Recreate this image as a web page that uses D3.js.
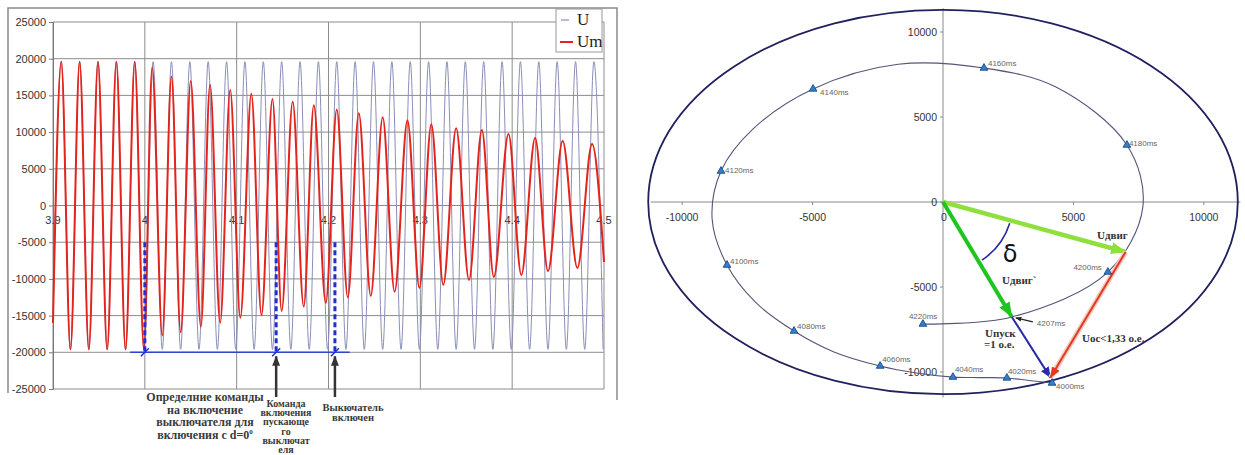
<!DOCTYPE html>
<html>
<head>
<meta charset="utf-8">
<script src="https://cdn.jsdelivr.net/npm/d3@7"></script>
<style>
  body { margin: 0; background: #fff; }
  svg { display: block; background: #fff; }
</style>
</head>
<body>
<svg width="1245" height="455"></svg>
<script>
// ---- left chart: U and Um vs time, s ----
const timeTicks = [3.9, 4, 4.1, 4.2, 4.3, 4.4, 4.5]
const voltTicks = [-25000, -20000, -15000, -10000, -5000, 0, 5000, 10000, 15000, 20000, 25000]

// network voltage U: constant amplitude, extrema
const uAmp = 19600
const uStart = -16000
const uPeakT = [3.909, 3.929, 3.949, 3.969, 3.989, 4.009, 4.029, 4.049, 4.069, 4.089,
                4.109, 4.129, 4.149, 4.169, 4.189, 4.209, 4.229, 4.249, 4.269, 4.289,
                4.309, 4.329, 4.349, 4.369, 4.389, 4.409, 4.429, 4.449, 4.469, 4.489]
const uTroughT = [3.919, 3.939, 3.959, 3.979, 3.999, 4.019, 4.039, 4.059, 4.079, 4.099,
                  4.119, 4.139, 4.159, 4.179, 4.199, 4.219, 4.239, 4.259, 4.279, 4.299,
                  4.319, 4.339, 4.359, 4.379, 4.399, 4.419, 4.439, 4.459, 4.479, 4.499]

// motor voltage Um: extrema (time, value)
const umT = [3.9, 3.909, 3.919, 3.929, 3.939, 3.949, 3.959, 3.969, 3.979, 3.989, 3.999,
             4.008, 4.019, 4.029, 4.039, 4.050, 4.061, 4.071, 4.082, 4.093, 4.104,
             4.116, 4.127, 4.139, 4.149, 4.161, 4.173, 4.184, 4.197, 4.209, 4.221,
             4.233, 4.246, 4.259, 4.272, 4.286, 4.299, 4.312, 4.325, 4.339, 4.353,
             4.367, 4.380, 4.396, 4.410, 4.425, 4.439, 4.455, 4.471, 4.487, 4.5]
const umV = [-16000, 19600, -19600, 19600, -19600, 19600, -19600, 19600, -19600, 19600, -19600,
             18800, -17700, 17570, -17280, 16950, -16520, 16460, -15970, 15720, -15290,
             15220, -14930, 14500, -14370, 14140, -13770, 13650, -13270, 13080, -12520,
             12580, -12300, 12030, -11760, 11620, -11220, 11080, -10810, 10540, -10140,
             10270, -9730, 9730, -9460, 9190, -8920, 8780, -8510, 8380, -7700]

// switching events
const eventT = [4.0, 4.143, 4.207]
const eventTop = -5000
const eventBottom = -20000
const eventText = [
    ["Определние команды", "на включение", "выключателя для", "включения с d=0"],
    ["Команда", "включения", "пускающе", "го", "выключат", "еля"],
    ["Выкючатель", "включен"]
]

// ---- right chart: voltage vector plane ----
const planeTicks = [-10000, -5000, 0, 5000, 10000]
const ringRadius = 11300
const trajMs = [4000, 4010, 4020, 4030, 4040, 4050, 4060, 4070, 4080, 4090, 4100, 4110,
                4120, 4130, 4140, 4150, 4160, 4170, 4180, 4190, 4200, 4207, 4220]
const trajX = [4180, 3300, 2450, 1400, 380, -1030, -2410, -4180, -5710, -7200, -8280, -8850,
               -8510, -7280, -4980, -1720, 1570, 4330, 7050, 7660, 6320, 2640, -770]
const trajY = [-10650, -10500, -10350, -10330, -10300, -10060, -9650, -8820, -7590, -5880, -3710, -1000,
               1820, 4300, 6650, 8100, 7880, 6760, 3350, -300, -4120, -6760, -7180]
const markerMs = [4000, 4020, 4040, 4060, 4080, 4100, 4120, 4140, 4160, 4180, 4200, 4220]

const uDvig = [7000, -2940]
const uDvigPrime = [2640, -6760]
const uEnd = [4120, -10330]

const svg = d3.select("svg")
const defs = svg.append("defs")

const arrowHead = function (id, color, len, wid) {
    defs.append("marker")
        .attr("id", id)
        .attr("viewBox", `0 0 ${len} ${wid}`)
        .attr("refX", len - 0.5)
        .attr("refY", wid / 2)
        .attr("markerWidth", len)
        .attr("markerHeight", wid)
        .attr("markerUnits", "userSpaceOnUse")
        .attr("orient", "auto")
        .append("path")
        .attr("d", `M0,0L${len},${wid / 2}L0,${wid}Z`)
        .attr("fill", color)
}
arrowHead("a-black", "#333", 10, 8)
arrowHead("a-lime", "#8fe03c", 15, 12)
arrowHead("a-green", "#1fc41f", 15, 12)
arrowHead("a-blue", "#2a2aa8", 11, 9)
arrowHead("a-red", "#e23a22", 11, 9)
arrowHead("a-small", "#222", 6, 5)

// ================= left chart =================
const x = d3.scaleLinear().domain([3.9, 4.5]).range([53, 604])
const y = d3.scaleLinear().domain([-25000, 25000]).range([389, 22])

const left = svg.append("g")

left.append("path")
    .attr("d", "M8,393V8H617V400")
    .attr("fill", "none")
    .attr("stroke", "#8a8a8a")
    .attr("stroke-width", 1.5)

left.append("g")
    .selectAll("line")
    .data(voltTicks)
    .join("line")
    .attr("x1", x(3.9))
    .attr("x2", x(4.5))
    .attr("y1", d => y(d))
    .attr("y2", d => y(d))
    .attr("stroke", "#8c8c8c")

left.append("g")
    .selectAll("line")
    .data(timeTicks)
    .join("line")
    .attr("x1", d => x(d))
    .attr("x2", d => x(d))
    .attr("y1", y(25000))
    .attr("y2", y(-25000))
    .attr("stroke", "#8c8c8c")

const yAxis = left.append("g")
    .attr("transform", `translate(${x(3.9)},0)`)
    .call(d3.axisLeft(y).tickValues(voltTicks).tickSize(4).tickPadding(3).tickFormat(d => String(d)))
yAxis.select(".domain").attr("stroke", "#777")
yAxis.selectAll(".tick line").attr("stroke", "#777")
yAxis.selectAll("text")
    .attr("font-family", "Liberation Sans, Arial, sans-serif")
    .attr("font-size", 11)
    .attr("fill", "#333")

left.append("g")
    .selectAll("text")
    .data(timeTicks)
    .join("text")
    .attr("x", d => x(d))
    .attr("y", y(0) + 18)
    .attr("text-anchor", "middle")
    .attr("font-family", "Liberation Sans, Arial, sans-serif")
    .attr("font-size", 11)
    .attr("fill", "#333")
    .text(d => String(d))

const wave = d3.line()
    .x(d => x(d[0]))
    .y(d => y(d[1]))
    .curve(d3.curveMonotoneX)

const uPoints = [[3.9, uStart]]
    .concat(uPeakT.map(t => [t, uAmp]))
    .concat(uTroughT.map(t => [t, -uAmp]))
    .sort((a, b) => a[0] - b[0])

left.append("path")
    .attr("d", wave(uPoints))
    .attr("fill", "none")
    .attr("stroke", "#8a8fb8")
    .attr("stroke-width", 1)

left.append("path")
    .attr("d", wave(umT.map((t, i) => [t, umV[i]])))
    .attr("fill", "none")
    .attr("stroke", "#e3241c")
    .attr("stroke-width", 2)

// legend
const legend = left.append("g")
legend.append("rect")
    .attr("x", 556).attr("y", 9).attr("width", 46).attr("height", 43)
    .attr("fill", "#fff").attr("stroke", "#999")
legend.append("line")
    .attr("x1", 561).attr("x2", 569).attr("y1", 20).attr("y2", 20)
    .attr("stroke", "#8a8fb8").attr("stroke-width", 1.2)
legend.append("line")
    .attr("x1", 560).attr("x2", 573).attr("y1", 42).attr("y2", 42)
    .attr("stroke", "#e3241c").attr("stroke-width", 2)
legend.selectAll("text")
    .data(["U", "Um"])
    .join("text")
    .attr("x", 577)
    .attr("y", (d, i) => 25 + i * 22)
    .attr("font-family", "Liberation Serif, Times New Roman, serif")
    .attr("font-size", 17)
    .attr("fill", "#222")
    .text(d => d)

// event markers
const ann = left.append("g")
ann.append("line")
    .attr("x1", x(3.984)).attr("x2", x(4.223))
    .attr("y1", y(eventBottom)).attr("y2", y(eventBottom))
    .attr("stroke", "#3344cc").attr("stroke-width", 1.5)

ann.selectAll("line.ev")
    .data(eventT)
    .join("line")
    .attr("class", "ev")
    .attr("x1", d => x(d)).attr("x2", d => x(d))
    .attr("y1", y(eventTop)).attr("y2", y(eventBottom))
    .attr("stroke", "#1d2fd6").attr("stroke-width", 3)
    .attr("stroke-dasharray", "5,3")

ann.selectAll("line.cross")
    .data(eventT)
    .join("line")
    .attr("class", "cross")
    .attr("x1", d => x(d) - 4).attr("x2", d => x(d) + 4)
    .attr("y1", y(eventBottom) + 4).attr("y2", y(eventBottom) - 4)
    .attr("stroke", "#1d2fd6").attr("stroke-width", 1.5)

ann.selectAll("line.up")
    .data(eventT.slice(1))
    .join("line")
    .attr("class", "up")
    .attr("x1", d => x(d)).attr("x2", d => x(d))
    .attr("y1", 397).attr("y2", y(eventBottom) + 4)
    .attr("stroke", "#333").attr("stroke-width", 2.5)
    .attr("marker-end", "url(#a-black)")

const textCfg = [
    {cx: 205, top: 401, lh: 12.5, size: 12},
    {cx: 286, top: 407, lh: 9.2, size: 10},
    {cx: 353, top: 411, lh: 10, size: 10.5}
]
eventText.forEach(function (lines, k) {
    const cfg = textCfg[k]
    const t = ann.append("text")
        .attr("text-anchor", "middle")
        .attr("font-family", "Liberation Serif, Times New Roman, serif")
        .attr("font-weight", "bold")
        .attr("font-size", cfg.size)
        .attr("fill", "#3a3a3a")
    lines.forEach(function (line, i) {
        t.append("tspan")
            .attr("x", cfg.cx)
            .attr("y", cfg.top + i * cfg.lh)
            .text(line)
        if (k === 0 && i === lines.length - 1) {
            t.append("tspan").attr("dy", -5).attr("font-size", 7).text("0")
        }
    })
})

// ================= right chart =================
const xR = d3.scaleLinear().domain([-11500, 11500]).range([643, 1243])
const yR = d3.scaleLinear().domain([-11500, 11500]).range([397.5, 6.5])

const right = svg.append("g")

right.append("line")
    .attr("x1", xR(-11200)).attr("x2", xR(11400))
    .attr("y1", yR(0)).attr("y2", yR(0))
    .attr("stroke", "#8a8a8a")
right.append("line")
    .attr("x1", xR(0)).attr("x2", xR(0))
    .attr("y1", yR(11400)).attr("y2", yR(-11500))
    .attr("stroke", "#8a8a8a")

right.append("g")
    .selectAll("line")
    .data(planeTicks)
    .join("line")
    .attr("x1", d => xR(d)).attr("x2", d => xR(d))
    .attr("y1", yR(0)).attr("y2", yR(0) + 3)
    .attr("stroke", "#8a8a8a")
right.append("g")
    .selectAll("line")
    .data(planeTicks)
    .join("line")
    .attr("x1", xR(0) - 3).attr("x2", xR(0))
    .attr("y1", d => yR(d)).attr("y2", d => yR(d))
    .attr("stroke", "#8a8a8a")

right.append("g")
    .selectAll("text")
    .data(planeTicks)
    .join("text")
    .attr("x", d => xR(d) + (d === 0 ? 1 : 0))
    .attr("y", yR(0) + 19)
    .attr("text-anchor", "middle")
    .attr("font-family", "Liberation Sans, Arial, sans-serif")
    .attr("font-size", 10.5)
    .attr("fill", "#333")
    .text(d => String(d))
right.append("g")
    .selectAll("text")
    .data(planeTicks)
    .join("text")
    .attr("x", xR(0) - 6)
    .attr("y", d => yR(d) + 4)
    .attr("text-anchor", "end")
    .attr("font-family", "Liberation Sans, Arial, sans-serif")
    .attr("font-size", 10.5)
    .attr("fill", "#333")
    .text(d => String(d))

// outer ring
right.append("ellipse")
    .attr("cx", xR(0)).attr("cy", yR(0))
    .attr("rx", xR(ringRadius) - xR(0))
    .attr("ry", yR(0) - yR(ringRadius))
    .attr("fill", "none")
    .attr("stroke", "#20205e")
    .attr("stroke-width", 1.8)

// trajectory of the motor voltage vector
const traj = d3.line()
    .x(d => xR(d[0]))
    .y(d => yR(d[1]))
    .curve(d3.curveCatmullRom.alpha(0.5))
right.append("path")
    .attr("d", traj(trajX.map((v, i) => [v, trajY[i]])))
    .attr("fill", "none")
    .attr("stroke", "#55557a")
    .attr("stroke-width", 1.1)

// vectors
const vec = function (from, to, color, width, head) {
    right.append("line")
        .attr("x1", xR(from[0])).attr("y1", yR(from[1]))
        .attr("x2", xR(to[0])).attr("y2", yR(to[1]))
        .attr("stroke", color).attr("stroke-width", width)
        .attr("marker-end", `url(#${head})`)
}
vec([0, 0], uDvig, "#8fe03c", 4.5, "a-lime")
vec([0, 0], uDvigPrime, "#1fc41f", 4, "a-green")
vec(uDvigPrime, uEnd, "#2a2aa8", 2, "a-blue")
right.append("line")
    .attr("x1", xR(uDvig[0])).attr("y1", yR(uDvig[1]))
    .attr("x2", xR(uEnd[0])).attr("y2", yR(uEnd[1]))
    .attr("stroke", "#f6c8bc").attr("stroke-width", 5)
vec(uDvig, uEnd, "#e23a22", 2, "a-red")

// angle delta
const a1 = Math.atan2(yR(uDvig[1]) - yR(0), xR(uDvig[0]) - xR(0))
const a2 = Math.atan2(yR(uDvigPrime[1]) - yR(0), xR(uDvigPrime[0]) - xR(0))
const arcPath = d3.path()
arcPath.arc(xR(0), yR(0), 70, a1 + 0.04, a2 - 0.05)
right.append("path")
    .attr("d", arcPath.toString())
    .attr("fill", "none")
    .attr("stroke", "#2b2ba0")
    .attr("stroke-width", 1.6)

// time markers
const msLabelOffset = {
    4000: [4, 6, "start"], 4020: [1, -4, "start"], 4040: [2, -5, "start"],
    4060: [2, -4, "start"], 4080: [3, -2, "start"], 4100: [3, -1, "start"],
    4120: [4, 2, "start"], 4140: [7, 6, "start"], 4160: [4, -2, "start"],
    4180: [2, 1, "start"], 4200: [-6, -2, "end"], 4220: [-14, -5, "start"]
}
const markers = markerMs.map(ms => {
    const i = trajMs.indexOf(ms)
    return {ms: ms, px: xR(trajX[i]), py: yR(trajY[i])}
})
right.selectAll("path.mk")
    .data(markers)
    .join("path")
    .attr("class", "mk")
    .attr("transform", d => `translate(${d.px},${d.py})`)
    .attr("d", d3.symbol(d3.symbolTriangle, 26))
    .attr("fill", "#2f80d0")
    .attr("stroke", "#153e78")
    .attr("stroke-width", 0.8)
right.selectAll("text.mk")
    .data(markers)
    .join("text")
    .attr("class", "mk")
    .attr("x", d => d.px + msLabelOffset[d.ms][0])
    .attr("y", d => d.py + msLabelOffset[d.ms][1])
    .attr("text-anchor", d => msLabelOffset[d.ms][2])
    .attr("font-family", "Liberation Sans, Arial, sans-serif")
    .attr("font-size", 8)
    .attr("fill", "#666")
    .text(d => d.ms + "ms")

// 4207 ms pointer
const p4207 = [xR(uDvigPrime[0]), yR(uDvigPrime[1])]
right.append("line")
    .attr("x1", p4207[0] + 21).attr("y1", p4207[1] + 5)
    .attr("x2", p4207[0] + 4).attr("y2", p4207[1] + 1)
    .attr("stroke", "#222").attr("stroke-width", 1.2)
    .attr("marker-end", "url(#a-small)")
right.append("text")
    .attr("x", p4207[0] + 25).attr("y", p4207[1] + 9)
    .attr("font-family", "Liberation Sans, Arial, sans-serif")
    .attr("font-size", 8)
    .attr("fill", "#666")
    .text("4207ms")

// vector labels
const serif = "Liberation Serif, Times New Roman, serif"
const vecLabels = [
    {t: "Uдвиг", x: 1097, y: 239},
    {t: "Uдвиг`", x: 1002, y: 284},
    {t: "Uпуск", x: 985, y: 337},
    {t: "=1 о.е.", x: 984, y: 348},
    {t: "Uос<1,33 о.е.", x: 1082, y: 342}
]
right.selectAll("text.vl")
    .data(vecLabels)
    .join("text")
    .attr("class", "vl")
    .attr("x", d => d.x)
    .attr("y", d => d.y)
    .attr("font-family", serif)
    .attr("font-weight", "bold")
    .attr("font-size", 11)
    .attr("fill", "#333")
    .text(d => d.t)

right.append("text")
    .attr("x", 1010).attr("y", 262)
    .attr("text-anchor", "middle")
    .attr("font-family", "DejaVu Sans, sans-serif")
    .attr("font-size", 24)
    .attr("fill", "#111")
    .text("δ")
</script>
</body>
</html>
